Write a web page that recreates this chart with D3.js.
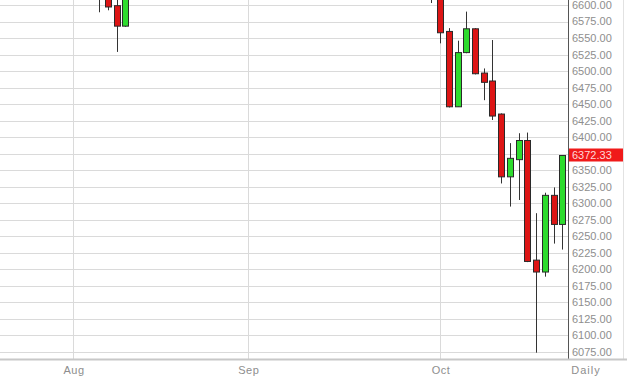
<!DOCTYPE html>
<html>
<head>
<meta charset="utf-8">
<script src="https://cdn.jsdelivr.net/npm/d3@7"></script>
<style>
html,body{margin:0;padding:0;background:#fff;}
svg{display:block;}
text{font-family:"Liberation Sans",Arial,sans-serif;}
</style>
</head>
<body>
<svg id="chart" width="627" height="377"></svg>
<script>
// ---- data (FTSE-like daily candles) ----
const dates = ["2014-08-06","2014-08-07","2014-08-08","2014-08-11","2014-09-30",
  "2014-10-01","2014-10-02","2014-10-03","2014-10-06","2014-10-07","2014-10-08","2014-10-09",
  "2014-10-10","2014-10-13","2014-10-14","2014-10-15","2014-10-16","2014-10-17","2014-10-20","2014-10-21"];
const open  = [6682,6636,6599,6568,6650, 6622,6560,6446,6528,6564,6497,6485,6435,6340,6366,6395,6214,6196,6312,6268];
const high  = [6690,6650,6610,6640,6660, 6640,6565,6546,6590,6565,6504,6547,6436,6391,6406,6407,6285,6316,6324,6373];
const low   = [6589,6592,6529,6567,6603, 6542,6445,6446,6527,6495,6456,6426,6330,6295,6305,6211,6074,6189,6239,6230];
const close = [6636,6597,6568,6632,6622, 6558,6446,6528,6564,6496,6483,6432,6340,6368,6395,6212,6196,6312,6268,6372.33];
const yTicks = d3.range(6075, 6600.1, 25);
const monthLabels = ["Aug","Sep","Oct"];
const monthStarts = ["2014-08-01","2014-09-01","2014-10-01"];
const holidays = ["2014-08-25"];
const lastPrice = 6372.33;
const periodLabel = "Daily";

// ---- layout ----
const W = 627, H = 377;
const plotRight = 568, plotBottom = 359;
const svg = d3.select("#chart");
const fmt = d3.format(".2f");

// trading day domain
const parse = d3.timeParse("%Y-%m-%d");
const fmtD = d3.timeFormat("%Y-%m-%d");
const days = d3.timeDay.range(parse("2014-08-01"), parse("2014-10-22"))
  .filter(d => d.getDay() !== 0 && d.getDay() !== 6)
  .map(fmtD)
  .filter(d => !holidays.includes(d));

const x = d3.scalePoint().domain(days).range([73, 562.4]);
const y = d3.scaleLinear().domain([6075, 6600]).range([352, 5]);

// grid
const grid = svg.append("g");
grid.selectAll("line.h").data(yTicks).join("line")
  .attr("x1", 0).attr("x2", plotRight)
  .attr("y1", d => Math.round(y(d)) + 0.5).attr("y2", d => Math.round(y(d)) + 0.5)
  .attr("stroke", "#dadada").attr("stroke-width", 1);
grid.selectAll("line.v").data(monthStarts).join("line")
  .attr("x1", d => Math.round(x(d)) + 0.5).attr("x2", d => Math.round(x(d)) + 0.5)
  .attr("y1", 0).attr("y2", plotBottom)
  .attr("stroke", "#dadada").attr("stroke-width", 1);

// candles
const candles = dates.map((d, i) => ({d, o: open[i], h: high[i], l: low[i], c: close[i]}));
const cg = svg.append("g");
cg.selectAll("line.wick").data(candles).join("line")
  .attr("x1", d => Math.round(x(d.d)) + 0.5).attr("x2", d => Math.round(x(d.d)) + 0.5)
  .attr("y1", d => y(d.h)).attr("y2", d => y(d.l))
  .attr("stroke", "#333").attr("stroke-width", 1);
cg.selectAll("rect.body").data(candles).join("rect")
  .attr("x", d => Math.round(x(d.d)) - 2.5)
  .attr("width", 6)
  .attr("y", d => y(Math.max(d.o, d.c)))
  .attr("height", d => Math.max(1, Math.abs(y(d.o) - y(d.c))))
  .attr("fill", d => d.c >= d.o ? "#2edc2e" : "#dd1515")
  .attr("stroke", "#2a2a2a").attr("stroke-width", 1);

// axis line & borders
svg.append("line").attr("x1", plotRight + 0.5).attr("x2", plotRight + 0.5)
  .attr("y1", 0).attr("y2", plotBottom).attr("stroke", "#555");
svg.append("line").attr("x1", 623.5).attr("x2", 623.5)
  .attr("y1", 0).attr("y2", plotBottom).attr("stroke", "#e2e2e2");
svg.append("line").attr("x1", 0).attr("x2", W)
  .attr("y1", plotBottom + 0.5).attr("y2", plotBottom + 0.5)
  .attr("stroke", "#c8c8c8").attr("stroke-width", 2);

// y labels (the one hidden behind the last-price box is not drawn)
const ly = y(lastPrice);
svg.append("g").selectAll("text")
  .data(yTicks.filter(t => Math.abs(y(t) - ly) > 10)).join("text")
  .attr("x", 572).attr("y", d => y(d)).attr("dy", "0.36em")
  .attr("font-size", 11).attr("fill", "#8e8e8e")
  .text(d => fmt(d));

// last price box
svg.append("rect").attr("x", 569).attr("y", Math.round(ly) - 6.5)
  .attr("width", 54).attr("height", 13).attr("fill", "#f01a1a");
svg.append("text").attr("x", 572).attr("y", ly).attr("dy", "0.36em")
  .attr("font-size", 11).attr("fill", "#ffd8d8").text(fmt(lastPrice));

// x labels
svg.append("g").selectAll("text").data(monthStarts).join("text")
  .attr("x", d => x(d) + 1).attr("y", 374)
  .attr("text-anchor", "middle").attr("font-size", 11).attr("fill", "#8e8e8e")
  .attr("letter-spacing", "0.5px")
  .text((d, i) => monthLabels[i]);
svg.append("text").attr("x", 586).attr("y", 374)
  .attr("text-anchor", "middle").attr("font-size", 11).attr("fill", "#8e8e8e")
  .attr("letter-spacing", "1px").text(periodLabel);
</script>
</body>
</html>
